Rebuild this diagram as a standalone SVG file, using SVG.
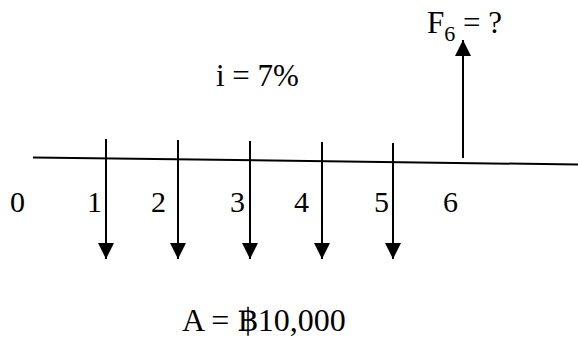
<svg xmlns="http://www.w3.org/2000/svg" width="578" height="343" viewBox="0 0 578 343">
<defs>
<style>
text{font-family:"Liberation Serif","DejaVu Serif",serif;fill:#000}
.lbl{font-size:30px}
.big{font-size:31px}
.ln{stroke:#000;stroke-width:2;fill:none}
</style>
<marker id="ah" viewBox="0 0 16 16" refX="16" refY="8" markerWidth="16" markerHeight="17" markerUnits="userSpaceOnUse" orient="auto">
<path d="M0,0 L16,8 L0,16 Z" fill="#000"/>
</marker>
</defs>
<g id="connectors">
<line class="ln" x1="33" y1="157.5" x2="578" y2="164.5"/>
<line class="ln" x1="106" y1="139" x2="106" y2="259" marker-end="url(#ah)"/>
<line class="ln" x1="178" y1="140" x2="178" y2="259" marker-end="url(#ah)"/>
<line class="ln" x1="250" y1="141" x2="250" y2="259" marker-end="url(#ah)"/>
<line class="ln" x1="322" y1="142" x2="322" y2="259" marker-end="url(#ah)"/>
<line class="ln" x1="393" y1="143" x2="393" y2="259" marker-end="url(#ah)"/>
<line class="ln" x1="463" y1="158" x2="463" y2="40" marker-end="url(#ah)"/>
</g>
<g id="labels">
<text class="lbl" x="10" y="212">0</text>
<text class="lbl" x="87" y="212">1</text>
<text class="lbl" x="151" y="212">2</text>
<text class="lbl" x="230" y="212">3</text>
<text class="lbl" x="294" y="212">4</text>
<text class="lbl" x="374" y="212">5</text>
<text class="lbl" x="443" y="212">6</text>
</g>
<g id="rate"><text class="big" x="216" y="86">i = 7%</text></g>
<g id="future"><text class="big" x="427" y="33">F<tspan font-size="22" dy="8">6</tspan><tspan dy="-8"> = ?</tspan></text></g>
<g id="annuity"><text font-size="32" x="182" y="331">A = ฿10,000</text></g>
</svg>
